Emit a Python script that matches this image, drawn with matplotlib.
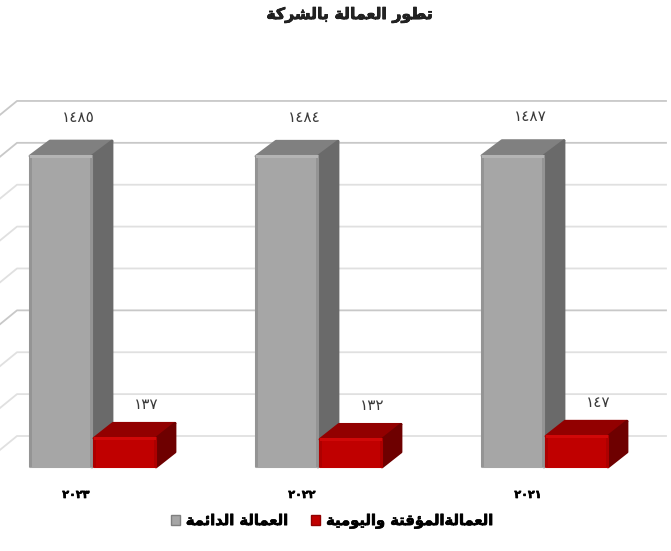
import matplotlib
matplotlib.use('Agg')
import matplotlib.pyplot as plt
import matplotlib.patheffects as pe
from matplotlib.patches import Polygon, Rectangle, Patch

# data
years = ['٢٠٢٣', '٢٠٢٢', '٢٠٢١']
permanent = [1485, 1484, 1487]
temporary = [137, 132, 147]
permanent_labels = ['١٤٨٥', '١٤٨٤', '١٤٨٧']
temporary_labels = ['١٣٧', '١٣٢', '١٤٧']
grid_values = [0, 200, 400, 600, 800, 1000, 1200, 1400, 1600]
title_text = 'تطور العمالة بالشركة'
permanent_name = 'العمالة الدائمة'
temporary_name = 'العمالةالمؤقتة واليومية'

# matplotlib does not join arabic letters, so pick the joined glyphs by hand
# letter: isolated, final, initial, medial
FORMS = {
    'ا': (0xFE8D, 0xFE8E, None, None), 'ب': (0xFE8F, 0xFE90, 0xFE91, 0xFE92),
    'ة': (0xFE93, 0xFE94, None, None), 'ت': (0xFE95, 0xFE96, 0xFE97, 0xFE98),
    'د': (0xFEA9, 0xFEAA, None, None), 'ر': (0xFEAD, 0xFEAE, None, None),
    'ش': (0xFEB5, 0xFEB6, 0xFEB7, 0xFEB8), 'ط': (0xFEC1, 0xFEC2, 0xFEC3, 0xFEC4),
    'ع': (0xFEC9, 0xFECA, 0xFECB, 0xFECC), 'ق': (0xFED5, 0xFED6, 0xFED7, 0xFED8),
    'ك': (0xFED9, 0xFEDA, 0xFEDB, 0xFEDC), 'ل': (0xFEDD, 0xFEDE, 0xFEDF, 0xFEE0),
    'م': (0xFEE1, 0xFEE2, 0xFEE3, 0xFEE4), 'و': (0xFEED, 0xFEEE, None, None),
    'ؤ': (0xFE85, 0xFE86, None, None), 'ي': (0xFEF1, 0xFEF2, 0xFEF3, 0xFEF4),
    'ئ': (0xFE89, 0xFE8A, 0xFE8B, 0xFE8C),
}


def shape(text):
    out = []
    for i, ch in enumerate(text):
        if ch not in FORMS:
            out.append(ch)
            continue
        prev = text[i - 1] if i > 0 else ' '
        nxt = text[i + 1] if i < len(text) - 1 else ' '
        joins_prev = prev in FORMS and FORMS[prev][2] is not None
        joins_next = nxt in FORMS and FORMS[ch][2] is not None
        if joins_prev and joins_next:
            code = FORMS[ch][3]
        elif joins_prev:
            code = FORMS[ch][1]
        elif joins_next:
            code = FORMS[ch][2]
        else:
            code = FORMS[ch][0]
        out.append(chr(code))
    return ''.join(reversed(out))


plt.rcParams['font.family'] = ['DejaVu Sans']

fig = plt.figure(figsize=(6.71, 5.51), dpi=100)
ax = fig.add_axes([0, 0, 1, 1])

# one group = 226 px, value 1 = 0.2094 px, group 0 starts at pixel 30
px_x = 1 / 226
px_y = 1 / 0.2094
ax.set_xlim(-30 * px_x, 641 * px_x)
ax.set_ylim(-84 * px_y, 467 * px_y)
ax.axis('off')

bar_w = 62 * px_x
red_gap = 64 * px_x
wall_dy = 31 * px_y
right_end = 636 * px_x
heavy = [pe.withStroke(linewidth=0.5, foreground='black')]


def bar3d(x, value, front, top, side, dark, light, dx, dy, z):
    w = bar_w
    ax.add_patch(Polygon([(x, value), (x + dx, value + dy), (x + w + dx, value + dy), (x + w, value)],
                         fc=top, ec=top, lw=2, joinstyle='round', zorder=z))
    ax.add_patch(Polygon([(x + w, 0), (x + w + dx, dy), (x + w + dx, value + dy), (x + w, value)],
                         fc=side, ec=side, lw=2, joinstyle='round', zorder=z))
    ax.bar(x, value, width=w, align='edge', color=front, edgecolor=front, lw=1.5, joinstyle='round', zorder=z + 0.1)
    # bevel on the front face
    ax.add_patch(Rectangle((x - 1 * px_x, 0), 3 * px_x, value, fc=dark, ec='none', zorder=z + 0.2))
    ax.add_patch(Rectangle((x + w - 2 * px_x, 0), 3 * px_x, value, fc=dark, ec='none', zorder=z + 0.2))
    ax.add_patch(Rectangle((x, value - 2 * px_y), w, 3 * px_y, fc=light, ec='none', zorder=z + 0.3))


# back wall grid lines with the short diagonal on the left wall
for v in grid_values:
    col = '#c8c8c8' if v in (1600, 1400, 600) else '#e0e0e0'
    ax.plot([-51 * px_x, -13 * px_x, right_end], [v, v + wall_dy, v + wall_dy], color=col, lw=1.3, zorder=1)

for i in range(len(years)):
    bar3d(i, permanent[i], '#a6a6a6', '#808080', '#6a6a6a', '#949494', '#b4b4b4',
          20 * px_x, 15 * px_y, 2 + i)
    bar3d(i + red_gap, temporary[i], '#c00000', '#920000', '#6e0000', '#ad0000', '#d00808',
          19 * px_x, 15 * px_y, 2.5 + i)

    ax.annotate(permanent_labels[i], (i + bar_w / 2, permanent[i]), xytext=(17 * 0.72, 39 * 0.72),
                textcoords='offset points', ha='center', va='center',
                fontsize=11, color='#3a3a3a', zorder=10)
    ax.annotate(temporary_labels[i], (i + red_gap + bar_w / 2, temporary[i]), xytext=(21 * 0.72, 34 * 0.72),
                textcoords='offset points', ha='center', va='center',
                fontsize=11, color='#3a3a3a', zorder=10)
    ax.annotate(years[i], (i + bar_w / 2, 0), xytext=(15 * 0.72, -28 * 0.72),
                textcoords='offset points', ha='center', va='center',
                fontsize=8, fontweight='bold', color='black', path_effects=heavy)

ax.text(350 / 671, 1 - 15 / 551, shape(title_text), transform=ax.transAxes, ha='center', va='center',
        fontsize=11.4, fontweight='bold', color='#222222', path_effects=heavy)

handles = [Patch(fc='#a6a6a6', ec='#7f7f7f', lw=1), Patch(fc='#c00000', ec='#900000', lw=1)]
leg = ax.legend(handles, [shape(permanent_name), shape(temporary_name)], ncol=2, frameon=False,
                loc='center', bbox_to_anchor=(332 / 671, 1 - 521 / 551), handlelength=0.6, handleheight=0.6,
                handletextpad=0.4, columnspacing=1.6, prop={'size': 10.6, 'weight': 'bold'})
for t in leg.get_texts():
    t.set_path_effects(heavy)

fig.savefig('out.png', dpi=100)
